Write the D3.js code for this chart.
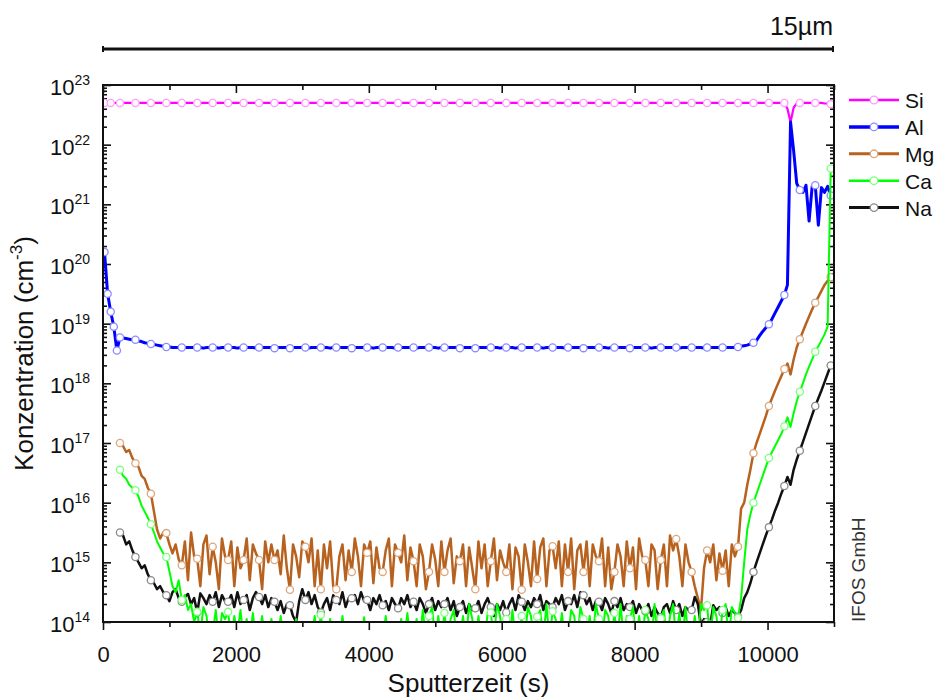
<!DOCTYPE html>
<html>
<head>
<meta charset="utf-8">
<script src="https://cdn.jsdelivr.net/npm/d3@7/dist/d3.min.js"></script>
<style>
body{margin:0;background:#fff;}
svg{font-family:"Liberation Sans",Arial,sans-serif;}
</style>
</head>
<body>
<div id="chart"></div>
<script>
// sampling of the depth profile: first sample time and step (s)
const t0 = 23;
const dt = 46.5;

// log10 of concentration (cm^-3), one value per sample, null = not measured
const siLog = [
	22.7,22.7,22.7,22.7,22.7,22.7,22.7,22.7,22.7,22.7,
	22.7,22.7,22.7,22.7,22.7,22.7,22.7,22.7,22.7,22.7,
	22.7,22.7,22.7,22.7,22.7,22.7,22.7,22.7,22.7,22.7,
	22.7,22.7,22.7,22.7,22.7,22.7,22.7,22.7,22.7,22.7,
	22.7,22.7,22.7,22.7,22.7,22.7,22.7,22.7,22.7,22.7,
	22.7,22.7,22.7,22.7,22.7,22.7,22.7,22.7,22.7,22.7,
	22.7,22.7,22.7,22.7,22.7,22.7,22.7,22.7,22.7,22.7,
	22.7,22.7,22.7,22.7,22.7,22.7,22.7,22.7,22.7,22.7,
	22.7,22.7,22.7,22.7,22.7,22.7,22.7,22.7,22.7,22.7,
	22.7,22.7,22.7,22.7,22.7,22.7,22.7,22.7,22.7,22.7,
	22.7,22.7,22.7,22.7,22.7,22.7,22.7,22.7,22.7,22.7,
	22.7,22.7,22.7,22.7,22.7,22.7,22.7,22.7,22.7,22.7,
	22.7,22.7,22.7,22.7,22.7,22.7,22.7,22.7,22.7,22.7,
	22.7,22.7,22.7,22.7,22.7,22.7,22.7,22.7,22.7,22.7,
	22.7,22.7,22.7,22.7,22.7,22.7,22.7,22.7,22.7,22.7,
	22.7,22.7,22.7,22.7,22.7,22.7,22.7,22.7,22.7,22.7,
	22.7,22.7,22.7,22.7,22.7,22.7,22.7,22.7,22.7,22.7,
	22.7,22.7,22.7,22.7,22.7,22.7,22.7,22.7,22.7,22.7,
	22.7,22.7,22.7,22.7,22.7,22.7,22.7,22.7,22.7,22.7,
	22.7,22.7,22.7,22.7,22.7,22.7,22.7,22.7,22.7,22.7,
	22.7,22.7,22.7,22.7,22.7,22.7,22.7,22.7,22.7,22.7,
	22.7,22.7,22.7,22.7,22.7,22.7,22.7,22.7,22.7,22.7,
	22.7,22.6,22.38,22.62,22.69,22.7,22.7,22.7,22.7,22.7,
	22.7,22.7,22.7,22.69,22.69,22.68
];

const alLog = [
	20.2,19.5,19.2,18.95,18.55,18.77,18.76,18.75,18.74,18.73,
	18.73,18.71,18.7,18.68,18.67,18.66,18.65,18.64,18.63,18.62,
	18.61,18.61,18.6,18.6,18.6,18.6,18.6,18.6,18.6,18.6,
	18.6,18.6,18.59,18.6,18.6,18.6,18.6,18.59,18.6,18.6,
	18.6,18.6,18.6,18.59,18.6,18.6,18.6,18.6,18.6,18.59,
	18.6,18.6,18.6,18.6,18.6,18.59,18.6,18.6,18.6,18.6,
	18.59,18.6,18.6,18.6,18.6,18.6,18.59,18.6,18.6,18.6,
	18.6,18.6,18.6,18.59,18.6,18.6,18.6,18.6,18.6,18.6,
	18.59,18.6,18.6,18.6,18.6,18.6,18.6,18.59,18.6,18.6,
	18.6,18.6,18.6,18.6,18.59,18.6,18.6,18.6,18.6,18.6,
	18.6,18.59,18.6,18.6,18.6,18.6,18.6,18.6,18.59,18.6,
	18.6,18.6,18.6,18.6,18.6,18.59,18.6,18.6,18.6,18.6,
	18.59,18.6,18.6,18.6,18.6,18.6,18.6,18.6,18.59,18.6,
	18.6,18.6,18.6,18.59,18.6,18.6,18.6,18.6,18.6,18.6,
	18.6,18.6,18.59,18.6,18.6,18.6,18.6,18.6,18.6,18.59,
	18.6,18.6,18.6,18.6,18.6,18.59,18.6,18.6,18.6,18.6,
	18.6,18.6,18.6,18.59,18.6,18.6,18.6,18.6,18.6,18.6,
	18.59,18.6,18.6,18.6,18.6,18.6,18.6,18.59,18.6,18.6,
	18.6,18.6,18.6,18.6,18.6,18.6,18.59,18.6,18.6,18.6,
	18.6,18.6,18.6,18.6,18.59,18.6,18.6,18.6,18.6,18.6,
	18.6,18.6,18.6,18.6,18.6,18.61,18.62,18.63,18.64,18.66,
	18.68,18.72,18.8,18.87,18.93,18.99,19.08,19.18,19.28,19.38,
	19.48,19.65,22.38,21.9,21.35,21.24,21.2,21.32,20.72,21.3,
	21.32,20.65,21.28,21.2,21.3,21.15
];

const mgLog = [
	null,null,null,null,null,17.0,16.95,16.85,16.88,16.75,
	16.66,16.6,16.45,16.4,16.25,16.15,15.85,15.55,15.4,15.5,
	15.49,15.3,15.15,15.3,15.05,14.95,15.35,14.7,15.5,15.1,
	15.06,14.6,15.3,15.45,14.8,15.26,15.0,14.55,15.4,15.1,
	15.04,15.35,14.6,15.25,14.9,15.04,15.4,14.7,15.3,15.15,
	15.04,14.55,15.35,15.0,15.3,15.04,15.2,14.8,15.45,14.9,
	14.54,15.3,15.1,14.75,15.35,15.26,15.0,15.4,14.6,15.2,
	14.55,15.3,14.9,15.35,14.6,14.55,15.1,15.3,14.7,15.2,
	14.84,15.4,15.1,14.6,15.3,15.16,15.35,14.65,15.25,14.9,
	14.84,15.2,15.4,14.6,15.3,15.16,15.0,15.45,14.7,15.25,
	15.02,14.6,15.3,15.1,14.55,14.84,15.3,15.05,14.6,15.35,
	14.84,15.2,15.4,14.65,15.1,15.02,15.3,14.6,15.25,14.9,
	14.55,15.35,14.9,15.3,14.6,15.02,15.4,14.7,15.2,15.0,
	14.84,15.3,14.55,15.25,15.1,14.54,15.3,15.0,14.6,15.35,
	14.72,15.25,15.4,14.6,15.2,15.27,14.9,15.35,14.6,15.3,
	14.84,15.4,14.55,15.2,15.3,14.84,15.35,14.6,15.3,15.1,
	15.02,15.4,14.6,15.25,14.55,14.84,15.3,15.1,14.6,15.35,
	14.9,15.25,14.55,15.4,15.1,15.04,14.6,15.3,15.2,14.55,
	15.04,15.3,14.6,15.45,15.2,15.39,15.1,14.6,15.3,15.0,
	14.84,14.6,14.4,14.2,14.9,15.2,15.0,15.3,14.7,15.15,
	14.86,15.2,14.6,15.3,15.1,15.26,15.9,16.0,16.3,16.55,
	16.83,17.0,17.15,17.3,17.45,17.62,17.75,17.88,18.0,18.12,
	18.24,18.33,18.15,18.4,18.6,18.74,18.87,19.0,19.12,19.24,
	19.35,19.45,19.55,19.65,19.72,19.78
];

const caLog = [
	null,null,null,null,null,16.55,16.45,16.4,16.3,16.25,
	16.21,16.1,15.95,15.85,15.75,15.64,15.5,15.35,15.25,15.15,
	15.09,14.85,14.6,14.5,14.7,14.37,14.45,14.2,14.3,14.0,
	14.17,13.8,14.25,14.1,13.7,13.8,14.2,13.7,14.15,14.05,
	14.17,13.7,14.1,13.8,14.2,13.7,14.05,13.7,14.15,13.7,
	13.7,14.1,13.7,13.7,14.05,13.7,13.7,14.1,13.7,13.7,
	13.7,13.7,14.05,13.7,13.7,13.7,13.7,13.7,14.1,13.7,
	14.12,13.7,13.7,14.05,13.7,13.7,13.7,14.1,13.7,13.7,
	13.7,13.7,13.7,13.7,14.08,13.7,13.7,13.7,13.7,13.7,
	13.7,14.1,13.7,13.7,13.7,13.7,14.05,13.7,14.15,13.7,
	13.7,14.05,13.7,14.2,13.7,14.1,14.25,13.7,14.1,13.7,
	14.15,13.7,14.05,14.2,13.7,13.7,14.1,13.7,14.3,14.05,
	13.7,14.1,13.7,13.7,14.15,14.16,13.7,14.3,14.1,13.7,
	14.05,13.7,14.2,13.7,13.7,14.1,13.7,14.25,14.1,13.7,
	14.09,14.2,13.7,14.3,13.7,14.18,14.05,13.7,14.15,13.7,
	13.7,14.2,14.1,13.7,14.25,14.05,13.7,14.1,13.7,14.3,
	14.05,13.7,14.2,14.1,13.7,14.15,13.7,14.3,13.7,14.1,
	14.05,14.25,13.7,14.1,13.7,14.2,14.05,13.7,14.3,13.7,
	14.06,14.2,13.7,14.1,14.3,13.7,14.15,13.7,14.25,13.7,
	13.7,14.1,13.7,14.3,14.2,14.28,13.7,14.25,14.1,13.7,
	14.2,14.3,13.7,14.25,14.15,14.07,14.4,15.0,15.55,15.8,
	16.0,16.15,16.3,16.45,16.6,16.75,16.85,16.95,17.05,17.15,
	17.28,17.43,17.27,17.5,17.7,17.86,18.0,18.15,18.28,18.4,
	18.53,18.62,18.72,18.82,18.95,21.6
];

const naLog = [
	null,null,null,null,null,15.5,15.45,15.3,15.35,15.2,
	15.09,15.0,14.9,14.95,14.8,14.7,14.65,14.55,14.6,14.5,
	14.45,14.35,14.5,14.55,14.4,14.34,14.42,14.47,14.3,14.4,
	14.16,14.48,14.4,14.3,14.45,14.34,14.5,14.25,14.45,14.35,
	14.34,14.45,14.25,14.5,14.3,14.37,14.45,14.2,14.4,14.5,
	14.42,14.3,14.45,14.25,14.4,14.34,14.2,14.35,14.15,14.3,
	14.28,14.1,14.0,14.35,14.55,14.37,14.5,14.3,14.45,14.25,
	14.16,14.3,14.4,14.2,14.45,14.37,14.3,14.5,14.25,14.4,
	14.4,14.45,14.3,14.5,14.35,14.37,14.2,14.4,14.3,14.45,
	14.28,14.35,14.2,14.4,14.3,14.23,14.4,14.3,14.45,14.25,
	14.34,14.2,14.4,14.3,14.15,14.3,14.4,14.2,14.35,14.25,
	14.3,14.4,14.2,14.35,14.1,14.25,14.35,14.15,14.3,14.2,
	14.23,14.35,14.15,14.3,14.4,14.25,14.1,14.3,14.2,14.35,
	14.16,14.3,14.4,14.2,14.45,14.34,14.2,14.35,14.25,14.4,
	14.3,14.45,14.2,14.35,14.3,14.25,14.4,14.3,14.45,14.2,
	14.35,14.3,14.45,14.25,14.5,14.45,14.3,14.4,14.2,14.35,
	14.34,14.2,14.4,14.3,14.15,14.35,14.25,14.4,14.2,14.3,
	14.25,14.35,14.15,14.3,14.2,14.18,14.3,14.1,14.25,14.15,
	14.08,14.25,14.3,14.15,14.35,14.2,14.3,14.1,14.25,14.2,
	14.2,14.42,14.3,13.95,14.05,14.0,13.95,14.28,14.2,14.25,
	14.15,14.25,14.1,14.2,14.15,14.09,14.2,14.4,14.5,14.65,
	14.84,15.0,15.15,15.3,15.45,15.59,15.72,15.87,16.0,16.15,
	16.28,16.43,16.3,16.55,16.72,16.87,17.02,17.17,17.32,17.47,
	17.62,17.75,17.88,18.02,18.16,18.3
];

const xTicks = [0, 2000, 4000, 6000, 8000, 10000];
const yExponents = [14, 15, 16, 17, 18, 19, 20, 21, 22, 23];

// legend order; draw order puts Na under Ca
const series = [
	{name:'Si', values:siLog, color:'#ff00ff', mark:'#ff9cff', width:2.2, extra:[2]},
	{name:'Al', values:alLog, color:'#0000ff', mark:'#8c8cff', width:3, extra:[1,2,3,4]},
	{name:'Mg', values:mgLog, color:'#b8621f', mark:'#dca77e', width:2.5, extra:[]},
	{name:'Ca', values:caLog, color:'#00ff00', mark:'#7dff7d', width:2, extra:[]},
	{name:'Na', values:naLog, color:'#111111', mark:'#8a8a8a', width:2.5, extra:[]}
];
const drawOrder = ['Si','Al','Mg','Na','Ca'];

const width = 936, height = 700;
const margin = {t:85, r:102, b:78, l:103};
const w = width - margin.l - margin.r;
const h = height - margin.t - margin.b;

const scaleX = d3.scaleLinear().domain([0, 11000]).range([0, w]);
const scaleY = d3.scaleLog().domain([1e14, 1e23]).range([h, 0]);

const svg = d3.select('#chart').append('svg')
	.attr('width', width)
	.attr('height', height);

svg.append('defs').append('clipPath')
	.attr('id', 'plotclip')
	.append('rect')
	.attr('width', w)
	.attr('height', h);

const plot = svg.append('g')
	.attr('transform', `translate(${margin.l},${margin.t})`);

// minor ticks for log axis
const minorY = [];
yExponents.slice(0, -1).forEach(e => {
	for (let k = 2; k <= 9; k++) minorY.push(k * Math.pow(10, e));
});
const majorY = yExponents.map(e => Math.pow(10, e));
const minorX = [1000, 3000, 5000, 7000, 9000, 11000];

function styleAxis(g){
	g.select('.domain').remove();
	g.selectAll('line').attr('stroke', '#111').attr('stroke-width', 1.6);
}

plot.append('g').call(d3.axisLeft(scaleY).tickValues(majorY).tickSize(-8).tickFormat('')).call(styleAxis);
plot.append('g').call(d3.axisLeft(scaleY).tickValues(minorY).tickSize(-4).tickFormat('')).call(styleAxis);
plot.append('g').attr('transform', `translate(${w},0)`)
	.call(d3.axisRight(scaleY).tickValues(majorY).tickSize(-8).tickFormat('')).call(styleAxis);
plot.append('g').attr('transform', `translate(${w},0)`)
	.call(d3.axisRight(scaleY).tickValues(minorY).tickSize(-4).tickFormat('')).call(styleAxis);
plot.append('g')
	.call(d3.axisTop(scaleX).tickValues(xTicks).tickSize(-8).tickFormat('')).call(styleAxis);
plot.append('g')
	.call(d3.axisTop(scaleX).tickValues(minorX).tickSize(-5).tickFormat('')).call(styleAxis);

const axisXNode = plot.append('g')
	.attr('transform', `translate(0,${h})`)
	.call(d3.axisBottom(scaleX).tickValues(xTicks).tickSize(8).tickPadding(16).tickFormat(d3.format('d')))
	.call(styleAxis);
axisXNode.selectAll('text')
	.attr('font-family', '"Liberation Sans",Arial,sans-serif')
	.attr('font-size', 22)
	.attr('fill', '#111');
plot.append('g')
	.attr('transform', `translate(0,${h})`)
	.call(d3.axisBottom(scaleX).tickValues(minorX).tickSize(5).tickFormat(''))
	.call(styleAxis);

// y labels as 10^n
const yLabels = plot.append('g')
	.selectAll('text')
	.data(yExponents)
	.enter().append('text')
	.attr('x', -13)
	.attr('y', d => scaleY(Math.pow(10, d)) + 10)
	.attr('text-anchor', 'end')
	.attr('font-size', 22)
	.attr('fill', '#111');
yLabels.append('tspan').text('10');
yLabels.append('tspan').attr('dy', -10).attr('font-size', 14).text(d => d);

// lines
const lineGen = d3.line()
	.defined(d => d.v != null)
	.x(d => scaleX(d.t))
	.y(d => scaleY(Math.pow(10, d.v)));

const lines = plot.append('g').attr('clip-path', 'url(#plotclip)');

drawOrder.forEach(name => {
	const s = series.find(d => d.name === name);
	const pts = s.values.map((v, i) => ({t: t0 + dt * i, v: v, i: i}));
	lines.append('path')
		.datum(pts)
		.attr('d', lineGen)
		.attr('fill', 'none')
		.attr('stroke', s.color)
		.attr('stroke-width', s.width)
		.attr('stroke-linejoin', 'round');
	lines.append('g')
		.selectAll('circle')
		.data(pts.filter(d => d.v != null && (d.i % 5 === 0 || s.extra.includes(d.i))))
		.enter().append('circle')
		.attr('cx', d => scaleX(d.t))
		.attr('cy', d => scaleY(Math.pow(10, d.v)))
		.attr('r', 3.6)
		.attr('fill', '#fff')
		.attr('stroke', s.mark)
		.attr('stroke-width', 1.3);
});

// frame
plot.append('rect')
	.attr('width', w)
	.attr('height', h)
	.attr('fill', 'none')
	.attr('stroke', '#111')
	.attr('stroke-width', 2);

// axis titles
svg.append('text')
	.attr('x', margin.l + w / 2)
	.attr('y', 692)
	.attr('text-anchor', 'middle')
	.attr('font-size', 26)
	.attr('fill', '#111')
	.text('Sputterzeit (s)');

const yTitle = svg.append('text')
	.attr('transform', `translate(33,${margin.t + h / 2}) rotate(-90)`)
	.attr('text-anchor', 'middle')
	.attr('font-size', 26)
	.attr('fill', '#111');
yTitle.append('tspan').text('Konzentration (cm');
yTitle.append('tspan').attr('dy', -11).attr('font-size', 17).text('-3');
yTitle.append('tspan').attr('dy', 11).text(')');

// depth scale bar
const bar = svg.append('g').attr('stroke', '#111');
bar.append('line')
	.attr('x1', margin.l).attr('x2', margin.l + w - 1)
	.attr('y1', 49).attr('y2', 49)
	.attr('stroke-width', 3);
[margin.l, margin.l + w - 1].forEach(x => {
	bar.append('line')
		.attr('x1', x).attr('x2', x)
		.attr('y1', 46).attr('y2', 52)
		.attr('stroke-width', 2);
});
svg.append('text')
	.attr('x', margin.l + w - 1)
	.attr('y', 35)
	.attr('text-anchor', 'end')
	.attr('font-size', 25)
	.attr('fill', '#111')
	.text('15µm');

// legend
const legend = svg.append('g')
	.attr('transform', 'translate(849,100)');
const item = legend.selectAll('g')
	.data(series)
	.enter().append('g')
	.attr('transform', (d, i) => `translate(0,${i * 26.9})`);
item.append('line')
	.attr('x1', 0).attr('x2', 50)
	.attr('stroke', d => d.color)
	.attr('stroke-width', d => d.width + 0.5);
item.append('circle')
	.attr('cx', 25)
	.attr('r', 3.8)
	.attr('fill', '#fff')
	.attr('stroke', d => d.mark)
	.attr('stroke-width', 1.3);
item.append('text')
	.attr('x', 56)
	.attr('y', 8)
	.attr('font-size', 21)
	.attr('fill', '#111')
	.text(d => d.name);

// lab credit
svg.append('text')
	.attr('transform', `translate(865,${margin.t + h}) rotate(-90)`)
	.attr('font-size', 19)
	.attr('fill', '#333')
	.text('IFOS GmbH');
</script>
</body>
</html>
